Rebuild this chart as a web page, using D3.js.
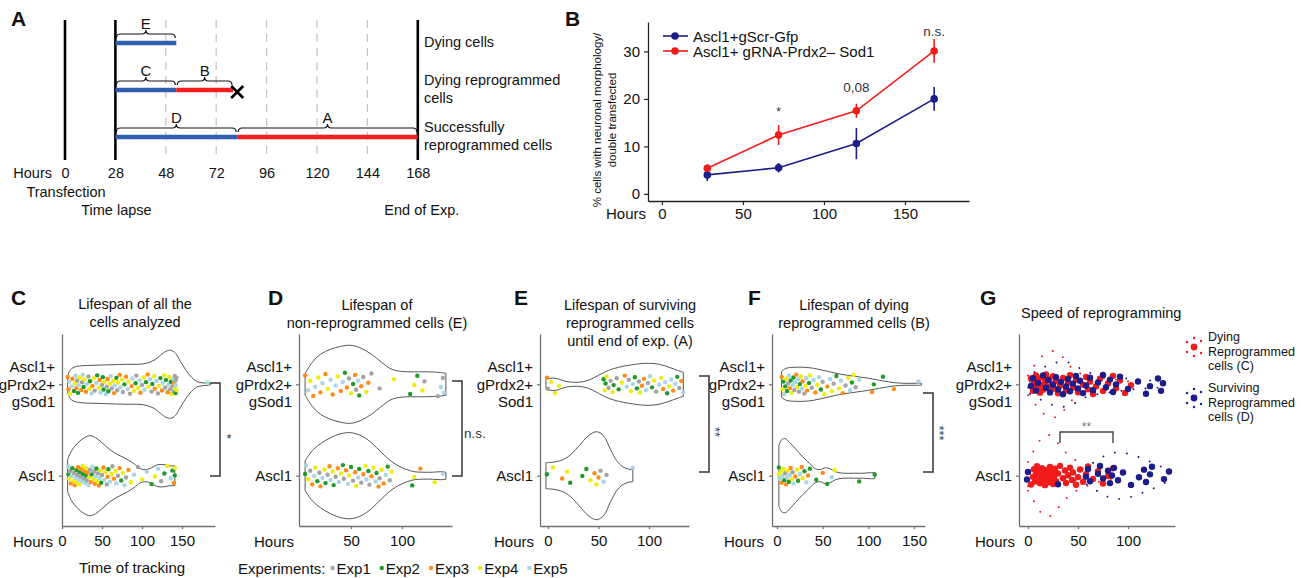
<!DOCTYPE html>
<html>
<head>
<meta charset="utf-8">
<title>Reprogramming timeline and lifespan</title>
<script src="https://cdn.jsdelivr.net/npm/d3@7"></script>
<style>
  html, body { margin: 0; padding: 0; background: #ffffff; }
  svg { display: block; font-family: "Liberation Sans", Arial, Helvetica, sans-serif; }
</style>
</head>
<body>
<svg id="figure" width="1301" height="578"></svg>
<script>
// ================= data =================

// A: imaging timeline (hours after transfection)
const timelineTicks = [0, 28, 48, 72, 96, 120, 144, 168];
const timelineMarkers = [0, 28, 168];
const timelineRows = [["Dying cells"], ["Dying reprogrammed", "cells"], ["Successfully", "reprogrammed cells"]];
// row, phase letter, start hour, end hour, phase type
const timelineSegments = [
  [0, "E", 28, 53, "pre"],
  [1, "C", 28, 53, "pre"],
  [1, "B", 53, 80, "post"],
  [2, "D", 28, 82, "pre"],
  [2, "A", 82, 168, "post"]
];
const timelineDeaths = [[1, 82]];
// hour, note, line
const timelineNotes = [[0, "Transfection", 1], [28, "Time lapse", 2], [168, "End of Exp.", 2]];

// B: % cells with neuronal morphology / double transfected
const timepoints = [28, 72, 120, 168];
const seriesNames = ["Ascl1+gScr-Gfp", "Ascl1+ gRNA-Prdx2\u2013 Sod1"];
const scrMean = [4.0, 5.5, 10.6, 20.0];
const scrErr = [1.3, 1.0, 3.3, 2.5];
const prdxMean = [5.4, 12.4, 17.5, 30.1];
const prdxErr = [0.8, 2.1, 1.5, 2.5];
const pLabels = ["", "*", "0,08", "n.s."];
const pLabelLevel = [null, 17.9, 22.5, 34.3];

// C-F: shared groups and experiments
const groups = ["Ascl1+gPrdx2+gSod1", "Ascl1"];
const expNames = ["Exp1", "Exp2", "Exp3", "Exp4", "Exp5"];
const expColors = ["#a3a3a3", "#1f9a2b", "#ff8c1a", "#f0ec10", "#a9d6e5"];

// C: lifespan of all cells — [hours, experiment]
const allCombo = [[7,3],[8,3],[9,5],[10,4],[12,5],[13,3],[15,2],[16,4],[17,5],[18,3],[19,1],[20,2],[21,5],[22,4],[24,3],[25,1],[26,5],[27,2],[28,4],[30,3],[31,5],[33,1],[34,4],[35,2],[37,5],[38,3],[40,4],[41,1],[43,5],[44,2],[46,4],[47,3],[48,5],[50,1],[51,2],[52,2],[53,4],[55,5],[56,1],[57,3],[58,2],[60,4],[61,5],[62,1],[64,4],[65,3],[66,5],[68,2],[69,1],[70,4],[72,3],[73,5],[75,4],[76,1],[78,2],[80,3],[82,5],[83,4],[85,1],[87,3],[88,5],[90,4],[92,2],[93,1],[95,4],[97,5],[98,3],[100,1],[102,4],[103,5],[105,2],[107,3],[108,4],[110,5],[112,1],[113,2],[115,4],[116,3],[118,5],[120,1],[121,4],[123,2],[125,3],[126,5],[128,4],[129,1],[130,2],[132,3],[133,5],[134,4],[135,1],[136,2],[137,4],[138,1],[139,5],[140,1],[140,3],[141,1],[141,4],[142,1],[142,2],[142,5],[143,1],[143,4],[182,5]];
const allAscl1 = [[8,2],[8,5],[9,4],[10,1],[11,3],[12,5],[13,2],[14,4],[15,1],[16,3],[17,5],[18,2],[18,4],[19,1],[20,3],[21,5],[22,2],[22,4],[23,1],[24,3],[25,5],[26,2],[26,4],[27,1],[28,3],[29,5],[30,2],[30,4],[31,1],[32,3],[33,5],[34,4],[35,1],[36,3],[37,2],[38,5],[39,4],[40,1],[41,3],[42,5],[43,2],[44,4],[45,1],[46,3],[47,5],[48,4],[49,2],[50,1],[52,3],[53,5],[54,4],[56,1],[57,3],[58,2],[60,5],[62,4],[63,1],[65,3],[67,4],[68,5],[70,1],[72,3],[74,2],[76,4],[78,5],[80,1],[83,3],[86,4],[90,5],[95,1],[100,4],[106,5],[112,2],[116,4],[120,5],[124,1],[128,2],[132,4],[136,5],[138,2],[140,3],[141,2],[141,4]];
// violin densities — [hours, relative density]
const allComboDensity = [[7,0.16],[10,0.28],[15,0.34],[25,0.37],[40,0.38],[60,0.39],[80,0.40],[95,0.40],[105,0.42],[115,0.48],[123,0.58],[130,0.66],[136,0.68],[142,0.62],[148,0.46],[155,0.28],[162,0.14],[168,0.06],[175,0.03],[182,0.02],[186,0.01]];
const allAscl1Density = [[7,0.32],[12,0.50],[20,0.66],[28,0.76],[35,0.80],[42,0.76],[50,0.66],[60,0.52],[70,0.42],[80,0.34],[90,0.24],[98,0.14],[105,0.12],[112,0.16],[120,0.22],[128,0.22],[134,0.20],[141,0.20]];

// D: lifespan of non-reprogrammed cells (E)
const nonReprogCombo = [[5,3],[8,5],[10,4],[13,3],[15,5],[18,4],[20,3],[22,5],[25,3],[27,4],[30,5],[32,3],[35,5],[37,4],[40,3],[42,5],[44,2],[46,3],[48,1],[50,4],[52,2],[54,3],[55,1],[57,5],[58,2],[60,3],[62,1],[65,4],[67,3],[70,1],[78,1],[92,4],[108,2],[112,4],[115,2],[120,4],[122,1],[135,1],[138,5],[140,1],[141,5]];
const nonReprogAscl1 = [[5,2],[6,5],[8,4],[10,1],[12,3],[14,5],[15,4],[17,2],[19,1],[20,3],[22,5],[24,4],[25,2],[27,1],[29,3],[30,5],[32,4],[33,2],[35,1],[37,3],[38,5],[40,4],[42,2],[43,1],[45,3],[47,5],[48,4],[50,2],[52,1],[54,3],[55,4],[57,5],[58,2],[60,1],[62,3],[64,4],[65,5],[67,2],[68,1],[70,3],[72,4],[74,5],[75,2],[77,3],[78,1],[80,4],[82,3],[84,5],[86,2],[88,1],[90,4],[110,2],[112,4],[118,3],[132,4],[140,5]];
const nonReprogComboDensity = [[5,0.22],[12,0.44],[20,0.60],[30,0.70],[40,0.76],[50,0.78],[60,0.72],[70,0.60],[80,0.44],[88,0.32],[95,0.27],[105,0.25],[120,0.25],[135,0.24],[143,0.22]];
const nonReprogAscl1Density = [[5,0.30],[12,0.50],[20,0.64],[30,0.76],[40,0.84],[50,0.86],[60,0.80],[70,0.66],[80,0.46],[90,0.28],[98,0.18],[105,0.12],[112,0.08],[120,0.07],[130,0.07],[138,0.08],[143,0.07]];

// E: lifespan of surviving reprogrammed cells (A)
const survivingCombo = [[-1,3],[0,1],[3,4],[7,4],[11,4],[55,2],[56,4],[57,2],[58,4],[60,1],[62,1],[64,4],[65,2],[68,1],[70,2],[73,4],[76,3],[78,5],[80,1],[82,4],[84,5],[86,2],[88,2],[90,1],[91,4],[93,3],[95,3],[97,5],[99,1],[101,5],[103,2],[105,4],[107,1],[110,5],[112,4],[114,3],[116,5],[118,2],[120,4],[122,5],[124,3],[126,5],[128,2],[130,1],[132,3],[134,5]];
const survivingAscl1 = [[-1,2],[5,4],[14,3],[19,4],[22,2],[34,2],[38,2],[42,4],[46,3],[48,4],[50,3],[52,1],[55,5],[58,1],[84,5]];
const survivingComboDensity = [[-2,0.10],[2,0.12],[8,0.12],[14,0.08],[20,0.05],[30,0.04],[40,0.08],[50,0.18],[60,0.28],[70,0.34],[80,0.38],[90,0.41],[100,0.42],[110,0.40],[120,0.34],[128,0.28],[134,0.24]];
const survivingAscl1Density = [[-2,0.26],[5,0.27],[12,0.30],[20,0.38],[30,0.58],[40,0.80],[48,0.88],[55,0.80],[62,0.52],[68,0.30],[74,0.18],[80,0.13],[84,0.12]];

// F: lifespan of dying reprogrammed cells (B)
const dyingCombo = [[5,3],[6,4],[7,2],[8,5],[9,2],[10,4],[11,2],[12,1],[13,5],[14,3],[15,2],[16,4],[17,5],[18,2],[19,1],[20,5],[21,3],[22,4],[23,5],[24,1],[25,2],[26,4],[27,5],[28,3],[30,1],[31,4],[32,5],[33,3],[35,2],[36,4],[38,1],[40,5],[42,3],[44,4],[46,5],[48,2],[50,1],[52,4],[55,3],[58,5],[60,4],[62,1],[65,2],[68,4],[70,5],[72,3],[75,1],[78,4],[80,5],[82,2],[84,4],[86,1],[90,5],[104,3],[106,2],[116,2],[128,3],[155,5]];
const dyingAscl1 = [[2,4],[2,2],[3,5],[4,4],[5,3],[6,5],[7,4],[8,2],[9,1],[10,3],[11,5],[12,4],[13,2],[14,5],[15,3],[16,4],[17,1],[18,5],[20,3],[22,4],[23,2],[25,5],[27,3],[28,4],[30,2],[32,5],[34,3],[36,2],[43,2],[50,3],[55,2],[60,5],[63,4],[90,2],[107,2]];
const dyingComboDensity = [[5,0.26],[10,0.32],[20,0.34],[30,0.34],[40,0.32],[55,0.26],[70,0.20],[85,0.16],[100,0.12],[112,0.08],[122,0.05],[130,0.03],[140,0.02],[150,0.02],[158,0.02]];
const dyingAscl1Density = [[2,0.60],[5,0.72],[9,0.74],[14,0.66],[20,0.54],[28,0.38],[36,0.24],[42,0.14],[47,0.12],[53,0.16],[58,0.14],[64,0.08],[72,0.05],[85,0.05],[95,0.05],[102,0.06],[107,0.06]];

// G: speed of reprogramming (hours until neuronal morphology)
const speedComboDying = [3,5,6,8,9,10,12,13,14,15,17,18,20,21,22,24,25,26,28,30,32,35,38,40,42,45,48,50,55,58,60,62,65,68,72,75,80,85,88,92,97,103];
const speedComboSurviving = [3,5,8,10,15,18,20,22,25,28,30,33,35,38,40,42,45,48,50,52,55,58,62,65,70,75,78,82,85,88,92,100,110,118,122,130,133,135];
const speedAscl1Dying = [0,3,5,6,7,8,9,10,11,12,13,14,15,16,17,18,19,20,21,22,23,24,25,26,27,28,30,32,35,37,38,40,42,44,45,48,50,52,55,58,60,65,70,75,80,85];
const speedAscl1Surviving = [-1,0,30,58,60,62,70,72,75,80,82,84,86,90,95,103,111,116,118,122,124,136,141];
const speedComboDyingDensity = [[0,0.22],[5,0.34],[12,0.52],[20,0.64],[27,0.66],[35,0.54],[45,0.30],[55,0.20],[70,0.14],[85,0.10],[100,0.06],[105,0.04]];
const speedComboSurvivingDensity = [[2,0.20],[10,0.28],[20,0.38],[30,0.44],[40,0.44],[50,0.34],[60,0.24],[75,0.18],[90,0.14],[105,0.10],[120,0.08],[135,0.06]];
const speedAscl1DyingDensity = [[0,0.30],[3,0.40],[8,0.58],[14,0.76],[20,0.82],[27,0.72],[35,0.52],[45,0.34],[55,0.24],[65,0.16],[75,0.10],[85,0.06]];
const speedAscl1SurvivingDensity = [[-1,0.04],[10,0.04],[25,0.04],[40,0.06],[55,0.14],[67,0.28],[77,0.40],[87,0.46],[97,0.45],[107,0.40],[117,0.32],[127,0.24],[137,0.14],[141,0.10]];
const speedBracket = [32, 85];

// ================= drawing =================
const svg = d3.select("#figure");
const INK = "#111";
const BLUE_DARK = "#1c1c8a";
const RED = "#f21c1c";

function label(g, x, y, str, size, anchor, extra) {
  const t = g.append("text").attr("x", x).attr("y", y).text(str)
    .attr("font-size", size).attr("text-anchor", anchor || "start")
    .attr("dominant-baseline", "central").attr("fill", INK);
  if (extra) extra(t);
  return t;
}
function panelLetter(x, y, letter) {
  label(svg, x, y, letter, 21, "start", t => t.attr("font-weight", "bold"));
}
function brace(x1, x2, yb, h) {
  const m = (x1 + x2) / 2, r = h / 2;
  return `M${x1},${yb} Q${x1},${yb - r} ${x1 + r},${yb - r} L${m - r},${yb - r} Q${m},${yb - r} ${m},${yb - h}` +
         ` Q${m},${yb - r} ${m + r},${yb - r} L${x2 - r},${yb - r} Q${x2},${yb - r} ${x2},${yb}`;
}
function styleAxis(sel, size, color) {
  sel.attr("font-family", null).attr("font-size", null);
  sel.select(".domain").attr("stroke", color).attr("stroke-width", 1.3);
  sel.selectAll(".tick line").attr("stroke", color).attr("stroke-width", 1.2);
  sel.selectAll(".tick text").attr("font-size", size).attr("fill", INK);
}

// ---------- A: timeline ----------
{
  const g = svg.append("g");
  const xA = d3.scaleLinear().domain(timelineTicks).range(timelineTicks.map((d, i) => 65 + i * 50.4));
  const yA = d3.scalePoint().domain(d3.range(timelineRows.length)).range([43, 137]);
  panelLetter(11, 18, "A");

  timelineTicks.forEach(t => {
    const solid = timelineMarkers.includes(t);
    g.append("line").attr("x1", xA(t)).attr("x2", xA(t)).attr("y1", 20).attr("y2", 160)
      .attr("stroke", solid ? "#000" : "#c6c6c6").attr("stroke-width", solid ? 2.6 : 1.3)
      .attr("stroke-dasharray", solid ? null : "8,6");
  });

  timelineSegments.forEach(([row, phase, s, e, type]) => {
    const y = yA(row);
    g.append("line").attr("x1", xA(s)).attr("x2", xA(e)).attr("y1", y).attr("y2", y)
      .attr("stroke", type === "pre" ? "#2f5fae" : "#f51d1d").attr("stroke-width", 4.5);
    const x1 = xA(s) + 1, x2 = xA(e) - 1, yb = y - 5;
    g.append("path").attr("d", brace(x1, x2, yb, 8)).attr("fill", "none")
      .attr("stroke", INK).attr("stroke-width", 1.2);
    label(g, (x1 + x2) / 2, yb - 15, phase, 15, "middle");
  });

  timelineDeaths.forEach(([row, h]) => {
    const cx = xA(h), cy = yA(row) + 2, s = 6;
    g.append("path").attr("d", `M${cx - s},${cy - s}L${cx + s},${cy + s}M${cx - s},${cy + s}L${cx + s},${cy - s}`)
      .attr("stroke", "#000").attr("stroke-width", 2.6);
  });

  timelineRows.forEach((lines, r) => {
    const y0 = yA(r) - 1 - (lines.length - 1) * 9;
    lines.forEach((ln, i) => label(g, 424, y0 + i * 18, ln, 14.5));
  });

  const ax = g.append("g").attr("transform", "translate(0,160)")
    .call(d3.axisBottom(xA).tickValues(timelineTicks).tickSize(0).tickPadding(8));
  ax.select(".domain").remove();
  ax.attr("font-family", null).selectAll("text").attr("font-size", 14.5).attr("fill", INK);
  label(g, 52, 173, "Hours", 14.5, "end");
  timelineNotes.forEach(([h, note, line]) => label(g, xA(h) + (line === 2 && h > 100 ? 4 : 1), 174 + line * 18, note, 14.5, "middle"));
}

// ---------- B: neuronal morphology over time ----------
{
  const g = svg.append("g");
  panelLetter(565, 18, "B");
  const xB = d3.scaleLinear().domain([-8.6, 189.5]).range([648, 969]);
  const yB = d3.scaleLinear().domain([-1.5, 36.2]).range([201, 22]);

  const ax = g.append("g").attr("transform", "translate(0,201)")
    .call(d3.axisBottom(xB).tickValues([0, 50, 100, 150]).tickSize(4).tickSizeOuter(0).tickPadding(3));
  styleAxis(ax, 15, "#222");
  const ay = g.append("g").attr("transform", "translate(648,0)")
    .call(d3.axisLeft(yB).tickValues([0, 10, 20, 30]).tickSize(4).tickSizeOuter(0).tickPadding(4));
  styleAxis(ay, 15, "#222");
  label(g, 646, 213, "Hours", 15, "end");

  const titleG = g.append("g").attr("transform", "translate(597,120) rotate(-90)");
  label(titleG, 0, 0, "% cells with neuronal morphology/", 11.5, "middle");
  label(titleG, 0, 15, "double transfected", 11.5, "middle");

  const series = [
    { name: seriesNames[0], mean: scrMean, err: scrErr, color: BLUE_DARK },
    { name: seriesNames[1], mean: prdxMean, err: prdxErr, color: RED }
  ];
  const line = d3.line().x(d => xB(d[0])).y(d => yB(d[1]));
  series.forEach(s => {
    const pts = timepoints.map((t, i) => [t, s.mean[i], s.err[i]]);
    g.append("path").attr("d", line(pts)).attr("fill", "none").attr("stroke", s.color).attr("stroke-width", 1.6);
    g.selectAll(null).data(pts).join("line")
      .attr("x1", d => xB(d[0])).attr("x2", d => xB(d[0]))
      .attr("y1", d => yB(d[1] - d[2])).attr("y2", d => yB(d[1] + d[2]))
      .attr("stroke", s.color).attr("stroke-width", 1.6);
    g.selectAll(null).data(pts).join("circle")
      .attr("cx", d => xB(d[0])).attr("cy", d => yB(d[1])).attr("r", 3.8).attr("fill", s.color);
  });

  timepoints.forEach((t, i) => {
    if (!pLabels[i]) return;
    const star = pLabels[i] === "*";
    label(g, xB(t), yB(pLabelLevel[i]) + (star ? 3 : 0), pLabels[i], star ? 12 : 13.5, "middle", tt => tt.attr("fill", "#333"));
  });

  series.forEach((s, i) => {
    const y = 36 + i * 15;
    g.append("line").attr("x1", 663).attr("x2", 688).attr("y1", y).attr("y2", y).attr("stroke", s.color).attr("stroke-width", 1.6);
    g.append("circle").attr("cx", 675).attr("cy", y).attr("r", 3.8).attr("fill", s.color);
    label(g, 693, y, s.name, 15);
  });
}

// ---------- C-F: lifespan violins ----------
function jitterOffset(i, seed, amp) {
  const u = (i * 0.6180339887 + seed) % 1;
  return (u * 2 - 1) * amp;
}

function groupScale() {
  return d3.scalePoint().domain(groups).range([334, 526]).padding(0.55);
}

function frame(cfg) {
  const g = svg.append("g");
  const x = d3.scaleLinear().domain(cfg.domain).range([cfg.axisX, cfg.axisEnd]);
  const y = groupScale();
  const ax = g.append("g").attr("transform", "translate(0,526)")
    .call(d3.axisBottom(x).tickValues(cfg.ticks).tickSize(3).tickSizeOuter(0).tickPadding(6));
  styleAxis(ax, 15, "#707070");
  const ay = g.append("g").attr("transform", `translate(${cfg.axisX},0)`)
    .call(d3.axisLeft(y).tickSize(3).tickSizeOuter(0).tickFormat(""));
  styleAxis(ay, 15, "#707070");
  label(g, cfg.hoursX, 541, "Hours", 15, "end");
  cfg.groupLines.forEach((lines, gi) => {
    const y0 = y(groups[gi]) - (lines.length - 1) * 8.8;
    lines.forEach((ln, i) => label(g, cfg.axisX - 7, y0 + i * 17.6, ln, 15, "end"));
  });
  cfg.title.forEach((ln, i) => label(g, cfg.titleX, cfg.titleY + i * 18, ln, 14.5, cfg.titleAnchor || "middle"));
  panelLetter(cfg.letterX, 297, cfg.letter);
  return { g, x, y };
}

function violinArea(x, cy, wScale) {
  return d3.area().curve(d3.curveCatmullRom.alpha(0.5))
    .x(d => x(d[0])).y0(d => cy - wScale(d[1])).y1(d => cy + wScale(d[1]));
}

function lifespanPanel(cfg) {
  const { g, x, y } = frame(cfg);
  const w = d3.scaleLinear().domain([0, 1]).range([0, 50]);
  cfg.violins.forEach((v, gi) => {
    const cy = y(groups[gi]);
    g.append("path").attr("d", violinArea(x, cy, w)(v.density))
      .attr("fill", "#fff").attr("stroke", "#555").attr("stroke-width", 1);
  });
  cfg.violins.forEach((v, gi) => {
    const cy = y(groups[gi]);
    g.selectAll(null).data(v.points).join("circle")
      .attr("cx", d => x(d[0]))
      .attr("cy", (d, i) => cy + jitterOffset(i, 0.13 + gi * 0.29, v.jitter))
      .attr("r", 2.2)
      .attr("fill", d => expColors[d[1] - 1]);
  });
  // significance bracket
  const b = cfg.bracket;
  g.append("path").attr("d", `M${b.x - 10},${b.y1}H${b.x}V${b.y2}H${b.x - 10}`)
    .attr("fill", "none").attr("stroke", "#333").attr("stroke-width", 1.5);
  if (b.rotate) {
    const tg = g.append("g").attr("transform", `translate(${b.tx},${b.ty}) rotate(90)`);
    label(tg, 0, 0, b.text, 13, "middle", t => t.attr("fill", "#444"));
  } else {
    label(g, b.tx, b.ty, b.text, b.size || 13, b.anchor || "start", t => t.attr("fill", "#333"));
  }
  return g;
}

const comboLines = [["Ascl1+", "gPrdx2+", "gSod1"], ["Ascl1"]];

lifespanPanel({
  letter: "C", letterX: 11,
  axisX: 62, axisEnd: 215, domain: [0, 191.25], ticks: [0, 50, 100, 150], hoursX: 53,
  groupLines: comboLines,
  title: ["Lifespan of all the", "cells analyzed"], titleX: 135, titleY: 304,
  violins: [
    { density: allComboDensity, points: allCombo, jitter: 10 },
    { density: allAscl1Density, points: allAscl1, jitter: 10 }
  ],
  bracket: { x: 220, y1: 383, y2: 476, text: "*", tx: 229, ty: 438, size: 13, anchor: "middle" }
});
svg.append("text").attr("x", 132).attr("y", 567).attr("text-anchor", "middle")
  .attr("dominant-baseline", "central").attr("font-size", 15).attr("fill", INK).text("Time of tracking");

lifespanPanel({
  letter: "D", letterX: 268,
  axisX: 299, axisEnd: 452, domain: [-1, 149], ticks: [50, 100], hoursX: 294,
  groupLines: comboLines,
  title: ["Lifespan of", "non-reprogrammed cells (E)"], titleX: 377, titleY: 305,
  violins: [
    { density: nonReprogComboDensity, points: nonReprogCombo, jitter: 12 },
    { density: nonReprogAscl1Density, points: nonReprogAscl1, jitter: 11 }
  ],
  bracket: { x: 462, y1: 381, y2: 476, text: "n.s.", tx: 464, ty: 433, size: 13.5 }
});

lifespanPanel({
  letter: "E", letterX: 514,
  axisX: 540, axisEnd: 689, domain: [-7.9, 139.6], ticks: [0, 50, 100], hoursX: 534,
  groupLines: [["Ascl1+", "gPrdx2+", "Sod1"], ["Ascl1"]],
  title: ["Lifespan of surviving", "reprogrammed cells", "until end of exp. (A)"], titleX: 630, titleY: 305,
  violins: [
    { density: survivingComboDensity, points: survivingCombo, jitter: 9 },
    { density: survivingAscl1Density, points: survivingAscl1, jitter: 9 }
  ],
  bracket: { x: 709, y1: 376, y2: 472, rotate: true, text: "**", tx: 715, ty: 432 }
});

lifespanPanel({
  letter: "F", letterX: 748,
  axisX: 772, axisEnd: 925, domain: [-5.5, 162], ticks: [0, 50, 100, 150], hoursX: 764,
  groupLines: comboLines,
  title: ["Lifespan of dying", "reprogrammed cells (B)"], titleX: 854, titleY: 305,
  violins: [
    { density: dyingComboDensity, points: dyingCombo, jitter: 10 },
    { density: dyingAscl1Density, points: dyingAscl1, jitter: 9 }
  ],
  bracket: { x: 933, y1: 393, y2: 472, rotate: true, text: "***", tx: 939, ty: 433 }
});

// bottom legend: experiments
{
  const g = svg.append("g");
  let cx = 238;
  const head = label(g, cx, 568, "Experiments:", 15);
  cx += head.node().getComputedTextLength() + 5;
  expNames.forEach((n, i) => {
    g.append("circle").attr("cx", cx + 2).attr("cy", 568).attr("r", 2.2).attr("fill", expColors[i]);
    const t = label(g, cx + 6, 568, n, 15);
    cx += 6 + t.node().getComputedTextLength() + 9;
  });
}

// ---------- G: speed of reprogramming ----------
{
  const { g, x, y } = frame({
    letter: "G", letterX: 980,
    axisX: 1019, axisEnd: 1175, domain: [-9, 147], ticks: [0, 50, 100], hoursX: 1015,
    groupLines: comboLines,
    title: ["Speed of reprogramming"], titleX: 1021, titleY: 313, titleAnchor: "start"
  });
  const w = d3.scaleLinear().domain([0, 1]).range([0, 50]);
  const colors = [RED, BLUE_DARK];
  const outlines = [
    [speedComboDyingDensity, speedComboSurvivingDensity],
    [speedAscl1DyingDensity, speedAscl1SurvivingDensity]
  ];
  const pts = [
    [speedComboDying, speedComboSurviving],
    [speedAscl1Dying, speedAscl1Surviving]
  ];
  outlines.forEach((pair, gi) => {
    const cy = y(groups[gi]);
    pair.forEach((dens, si) => {
      g.append("path").attr("d", violinArea(x, cy, w)(dens))
        .attr("fill", "none").attr("stroke", colors[si]).attr("stroke-width", 1.9)
        .attr("stroke-linecap", "round").attr("stroke-dasharray", "0.1,12");
    });
  });
  pts.forEach((pair, gi) => {
    const cy = y(groups[gi]);
    pair.forEach((vals, si) => {
      g.selectAll(null).data(vals).join("circle")
        .attr("cx", d => x(d))
        .attr("cy", (d, i) => cy + jitterOffset(i, 0.21 + si * 0.37 + gi * 0.11, 10))
        .attr("r", 3.2).attr("fill", colors[si]);
    });
  });
  const bx1 = x(speedBracket[0]), bx2 = x(speedBracket[1]);
  g.append("path").attr("d", `M${bx1},443V432H${bx2}V443`).attr("fill", "none").attr("stroke", "#444").attr("stroke-width", 1.4);
  label(g, (bx1 + bx2) / 2, 427, "**", 12, "middle", t => t.attr("fill", "#777"));

  // legend
  const legendLines = [["Dying", "Reprogrammed", "cells (C)"], ["Surviving", "Reprogrammed", "cells (D)"]];
  legendLines.forEach((lines, si) => {
    const ky = 347 + si * 51;
    const kx = 1194;
    [[-7, -5], [-7, 5], [7, -6], [7, 6], [0, -9], [0, 9]].forEach(([dx, dy]) => {
      g.append("circle").attr("cx", kx + dx).attr("cy", ky + dy).attr("r", 1.2).attr("fill", colors[si]);
    });
    g.append("circle").attr("cx", kx).attr("cy", ky).attr("r", 3.4).attr("fill", colors[si]);
    lines.forEach((ln, i) => label(g, 1208, ky - 10 + i * 14.5, ln, 12.5));
  });
}
</script>
</body>
</html>
